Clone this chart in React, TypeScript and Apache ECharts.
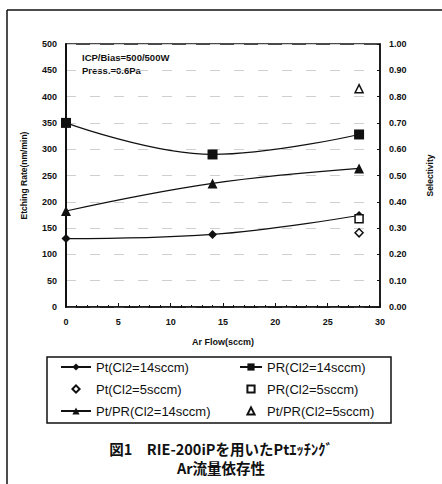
import React, { useEffect, useRef } from "react";
import * as echarts from "echarts";

const flows = [0, 14, 28];
const ptRate14 = [130, 138, 174];
const prRate14 = [350, 290, 328];
const selectivity14 = [0.365, 0.47, 0.527];
const flow5 = [28];
const ptRate5 = [141];
const prRate5 = [168];
const selectivity5 = [0.83];

const seriesNames = [
  "Pt(Cl2=14sccm)",
  "PR(Cl2=14sccm)",
  "Pt(Cl2=5sccm)",
  "PR(Cl2=5sccm)",
  "Pt/PR(Cl2=14sccm)",
  "Pt/PR(Cl2=5sccm)",
];

const pairs = (xs: number[], ys: number[]) => xs.map((x, i) => [x, ys[i]]);

const LATIN = "'Liberation Sans', Arial, sans-serif";
const CJK = "'Noto Sans CJK JP', sans-serif";

export default function App() {
  const ref = useRef<HTMLDivElement>(null);
  useEffect(() => {
    if (!ref.current) return;
    const chart = echarts.init(ref.current, undefined, { renderer: "svg" });
    const black = "#111";
    const lineCommon = {
      type: "line" as const,
      smooth: 0.4,
      lineStyle: { color: black, width: 1.2 },
      itemStyle: { color: black },
    };
    const pointOnly = {
      type: "line" as const,
      showSymbol: true,
      lineStyle: { color: black, width: 0, opacity: 0 },
      itemStyle: { color: "#fff", borderColor: black, borderWidth: 1.5 },
    };
    const legendText = { fontFamily: LATIN, fontSize: 13, color: black, lineHeight: 14 };
    chart.setOption({
      animation: false,
      backgroundColor: "#fff",
      grid: {
        left: 66,
        right: 57,
        top: 44,
        bottom: 177,
        show: true,
        borderColor: black,
        borderWidth: 1.5,
        containLabel: false,
      },
      xAxis: {
        type: "value",
        min: 0,
        max: 30,
        interval: 5,
        name: "Ar Flow(sccm)",
        nameLocation: "middle",
        nameGap: 30,
        nameTextStyle: { fontFamily: LATIN, fontSize: 9, fontWeight: "bold", color: black },
        axisLine: { lineStyle: { color: black, width: 1.5 } },
        axisTick: { inside: true, length: 4, lineStyle: { color: black } },
        minorTick: { show: true, splitNumber: 5, length: 2, lineStyle: { color: black } },
        splitLine: { show: false },
        axisLabel: { fontFamily: LATIN, fontSize: 9, fontWeight: "bold", color: black, margin: 10 },
      },
      yAxis: [
        {
          type: "value",
          min: 0,
          max: 500,
          interval: 50,
          name: "Etching Rate(nm/min)",
          nameLocation: "middle",
          nameGap: 38,
          nameTextStyle: { fontFamily: LATIN, fontSize: 8.5, fontWeight: "bold", color: black },
          axisLine: { show: true, lineStyle: { color: black, width: 2 } },
          axisTick: { show: false },
          splitLine: { show: true, lineStyle: { color: "#cfcfcf", type: [10, 14], width: 1 } },
          axisLabel: { fontFamily: LATIN, fontSize: 9, fontWeight: "bold", color: black, margin: 9 },
        },
        {
          type: "value",
          min: 0,
          max: 1,
          interval: 0.1,
          position: "right",
          name: "Selectivity",
          nameLocation: "middle",
          nameGap: 45,
          nameTextStyle: { fontFamily: LATIN, fontSize: 8.5, fontWeight: "bold", color: black },
          axisLine: { show: true, lineStyle: { color: black, width: 1.5 } },
          axisTick: { show: true, inside: true, length: 3, lineStyle: { color: black } },
          splitLine: { show: false },
          axisLabel: {
            fontFamily: LATIN,
            fontSize: 9,
            fontWeight: "bold",
            color: black,
            margin: 9,
            formatter: (v: number) => v.toFixed(2),
          },
        },
      ],
      legend: [
        {
          orient: "vertical",
          left: 55,
          top: 355,
          itemWidth: 30,
          itemHeight: 9,
          itemGap: 8,
          textStyle: legendText,
          data: [seriesNames[0], seriesNames[2], seriesNames[4]],
        },
        {
          orient: "vertical",
          left: 234,
          top: 355,
          itemWidth: 22,
          itemHeight: 9,
          itemGap: 8,
          textStyle: legendText,
          data: [seriesNames[1], seriesNames[3], seriesNames[5]],
        },
      ],
      graphic: [
        { type: "line", shape: { x1: 7, y1: 10, x2: 442, y2: 10 }, style: { stroke: black, lineWidth: 1.5 } },
        { type: "line", shape: { x1: 7, y1: 10, x2: 7, y2: 484 }, style: { stroke: black, lineWidth: 1.5 } },
        { type: "rect", shape: { x: 47, y: 357, width: 344, height: 66 }, style: { fill: "none", stroke: black, lineWidth: 1.5 } },
        {
          type: "text",
          left: 82,
          top: 52,
          style: { text: "ICP/Bias=500/500W", fontFamily: LATIN, fontSize: 9.5, fontWeight: "bold", fill: black },
        },
        {
          type: "text",
          left: 82,
          top: 65,
          style: { text: "Press.=0.6Pa", fontFamily: LATIN, fontSize: 9.5, fontWeight: "bold", fill: black },
        },
        {
          type: "text",
          left: "center",
          top: 441,
          style: { text: "図1　RIE-200iPを用いたPtｴｯﾁﾝｸﾞ", fontFamily: CJK, fontSize: 14.5, fontWeight: "bold", fill: black },
        },
        {
          type: "text",
          left: "center",
          top: 460,
          style: { text: "Ar流量依存性", fontFamily: CJK, fontSize: 14.5, fontWeight: "bold", fill: black },
        },
      ],
      series: [
        {
          ...lineCommon,
          name: seriesNames[0],
          symbol: "diamond",
          symbolSize: 9,
          data: pairs(flows, ptRate14),
        },
        {
          ...lineCommon,
          name: seriesNames[1],
          symbol: "rect",
          symbolSize: 10,
          data: pairs(flows, prRate14),
        },
        {
          ...pointOnly,
          name: seriesNames[2],
          symbol: "diamond",
          symbolSize: 8,
          data: pairs(flow5, ptRate5),
        },
        {
          ...pointOnly,
          name: seriesNames[3],
          symbol: "rect",
          symbolSize: 8,
          data: pairs(flow5, prRate5),
        },
        {
          ...lineCommon,
          name: seriesNames[4],
          yAxisIndex: 1,
          symbol: "triangle",
          symbolSize: 10,
          data: pairs(flows, selectivity14),
        },
        {
          ...pointOnly,
          name: seriesNames[5],
          yAxisIndex: 1,
          symbol: "triangle",
          symbolSize: 8,
          data: pairs(flow5, selectivity5),
        },
      ],
    });
    return () => chart.dispose();
  }, []);
  return (
    <div
      ref={ref}
      style={{ position: "fixed", left: 0, top: 0, width: 442, height: 484, background: "#fff" }}
    />
  );
}
